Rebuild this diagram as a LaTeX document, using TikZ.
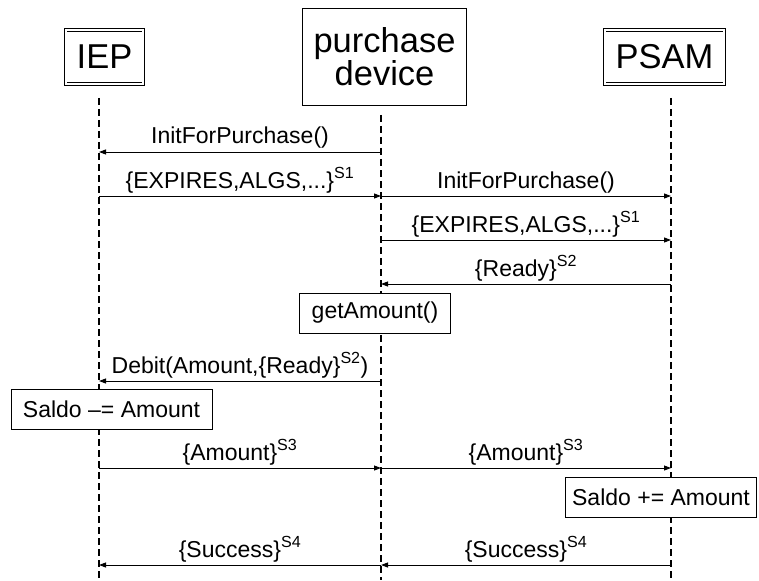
\documentclass[tikz,border=0pt]{standalone}
\usepackage{fontspec}
\setmainfont{Liberation Sans}
\usetikzlibrary{arrows.meta}
\usetikzlibrary{positioning}

\begin{document}
\begin{tikzpicture}[x=1pt,y=-1pt,node distance=280pt,>={Triangle[length=7pt,width=5pt]},
    actor/.style={draw,double,double distance=2pt,line width=0.7pt,inner xsep=11pt,minimum height=54pt,font=\fontsize{34.5}{33}\selectfont},
    device/.style={draw,line width=0.8pt,align=center,inner xsep=11pt,minimum height=97pt,font=\fontsize{34.5}{33}\selectfont},
    life/.style={line width=1.6pt,dash pattern=on 7pt off 4pt},
    msg/.style={->,line width=0.9pt},
    lbl/.style={anchor=base,yshift=8pt,inner sep=0pt,font=\fontsize{23}{27}\selectfont},
    act/.style={draw,fill=white,line width=0.8pt,inner xsep=12pt,minimum height=40pt,font=\fontsize{23}{27}\selectfont}]
    \useasboundingbox (0,0) rectangle (759,580);

    % heads
    \node[actor] (iep) at (104.5,57) {IEP};
    \node[device] (pd) [right of=iep] {purchase\\device};
    \node[actor] (psam) [right of=pd] {PSAM};

    % lifelines
    \coordinate (l_iep) at (99,98);
    \coordinate (l_pd) at (381,115);
    \coordinate (l_psam) at (671,98);
    \coordinate (e_iep) at (99,580);
    \coordinate (e_pd) at (381,580);
    \coordinate (e_psam) at (671,580);
    \draw[life] (l_iep) -- (e_iep);
    \draw[life] (l_pd) -- (e_pd);
    \draw[life] (l_psam) -- (e_psam);

    % rows
    \coordinate (r1) at (0,152);
    \coordinate (r2) at (0,196);
    \coordinate (r3) at (0,240);
    \coordinate (r4) at (0,284);
    \coordinate (r5) at (0,381);
    \coordinate (r6) at (0,468);
    \coordinate (r7) at (0,565);

    \draw[msg] (l_pd |- r1) -- node[lbl] {InitForPurchase()} (l_iep |- r1);
    \draw[msg] (l_iep |- r2) -- node[lbl] {\{EXPIRES,ALGS,...\}\textsuperscript{S1}} (l_pd |- r2);
    \draw[msg] (l_pd |- r2) -- node[lbl] {InitForPurchase()} (l_psam |- r2);
    \draw[msg] (l_pd |- r3) -- node[lbl] {\{EXPIRES,ALGS,...\}\textsuperscript{S1}} (l_psam |- r3);
    \draw[msg] (l_psam |- r4) -- node[lbl] {\{Ready\}\textsuperscript{S2}} (l_pd |- r4);

    \node[act] (get) at (375,313) {getAmount()};

    \draw[msg] (l_pd |- r5) -- node[lbl] {Debit(Amount,\{Ready\}\textsuperscript{S2})} (l_iep |- r5);

    \node[act] (debit) at (111.5,409.5) {Saldo \textendash= Amount};

    \draw[msg] (l_iep |- r6) -- node[lbl] {\{Amount\}\textsuperscript{S3}} (l_pd |- r6);
    \draw[msg] (l_pd |- r6) -- node[lbl] {\{Amount\}\textsuperscript{S3}} (l_psam |- r6);

    \node[act,inner xsep=7pt] (credit) at (661,497) {Saldo += Amount};

    \draw[msg] (l_psam |- r7) -- node[lbl] {\{Success\}\textsuperscript{S4}} (l_pd |- r7);
    \draw[msg] (l_pd |- r7) -- node[lbl] {\{Success\}\textsuperscript{S4}} (l_iep |- r7);
\end{tikzpicture}
\end{document}
